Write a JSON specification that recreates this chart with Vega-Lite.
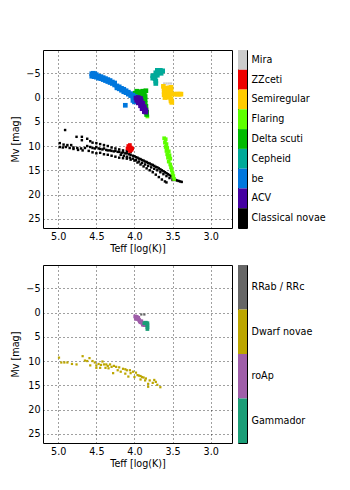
{
"$schema": "https://vega.github.io/schema/vega-lite/v6.json",
"padding": {"top": 49, "left": 10, "right": 0, "bottom": 0},
"config": {
  "font": "DejaVu Sans",
  "view": {"stroke": "#000", "strokeWidth": 1},
  "axis": {"labelFont": "DejaVu Sans", "labelFontSize": 9.6, "labelColor": "#000", "titleFont": "DejaVu Sans", "titleFontSize": 9.6, "titleFontWeight": "normal", "titleColor": "#000", "domain": false, "grid": true, "gridColor": "#000", "gridDash": [1, 3], "gridOpacity": 0.75, "tickColor": "#000"}
},
"datasets": {
"top": [
{"t":4.91,"m":6.7,"c":"Classical novae"},
{"t":4.98,"m":9.4,"c":"Classical novae"},{"t":4.93,"m":9.7,"c":"Classical novae"},{"t":4.88,"m":9.8,"c":"Classical novae"},{"t":4.83,"m":9.8,"c":"Classical novae"},{"t":4.76,"m":8.1,"c":"Classical novae"},{"t":4.69,"m":8.1,"c":"Classical novae"},{"t":4.69,"m":8.8,"c":"Classical novae"},{"t":4.62,"m":8.5,"c":"Classical novae"},{"t":4.58,"m":9.0,"c":"Classical novae"},{"t":4.55,"m":9.3,"c":"Classical novae"},{"t":4.50,"m":9.4,"c":"Classical novae"},{"t":4.45,"m":9.6,"c":"Classical novae"},{"t":4.40,"m":9.8,"c":"Classical novae"},{"t":4.35,"m":10.0,"c":"Classical novae"},{"t":4.30,"m":10.3,"c":"Classical novae"},{"t":4.25,"m":10.5,"c":"Classical novae"},{"t":4.20,"m":10.7,"c":"Classical novae"},{"t":4.15,"m":10.9,"c":"Classical novae"},{"t":4.10,"m":11.0,"c":"Classical novae"},{"t":4.05,"m":11.2,"c":"Classical novae"},
{"t":4.98,"m":10.2,"c":"Classical novae"},{"t":4.94,"m":10.3,"c":"Classical novae"},{"t":4.90,"m":10.2,"c":"Classical novae"},{"t":4.85,"m":10.4,"c":"Classical novae"},{"t":4.80,"m":10.3,"c":"Classical novae"},{"t":4.75,"m":10.4,"c":"Classical novae"},{"t":4.70,"m":10.5,"c":"Classical novae"},{"t":4.65,"m":10.4,"c":"Classical novae"},{"t":4.62,"m":10.0,"c":"Classical novae"},{"t":4.58,"m":10.2,"c":"Classical novae"},{"t":4.55,"m":10.4,"c":"Classical novae"},{"t":4.52,"m":10.5,"c":"Classical novae"},{"t":4.50,"m":10.2,"c":"Classical novae"},{"t":4.47,"m":10.5,"c":"Classical novae"},{"t":4.45,"m":10.6,"c":"Classical novae"},{"t":4.42,"m":10.7,"c":"Classical novae"},{"t":4.40,"m":10.5,"c":"Classical novae"},{"t":4.37,"m":10.8,"c":"Classical novae"},{"t":4.35,"m":10.9,"c":"Classical novae"},{"t":4.32,"m":10.9,"c":"Classical novae"},{"t":4.30,"m":11.0,"c":"Classical novae"},{"t":4.27,"m":11.1,"c":"Classical novae"},{"t":4.25,"m":11.0,"c":"Classical novae"},{"t":4.22,"m":11.2,"c":"Classical novae"},{"t":4.20,"m":11.2,"c":"Classical novae"},{"t":4.17,"m":11.4,"c":"Classical novae"},{"t":4.15,"m":11.3,"c":"Classical novae"},{"t":4.12,"m":11.5,"c":"Classical novae"},{"t":4.10,"m":11.5,"c":"Classical novae"},{"t":4.07,"m":11.7,"c":"Classical novae"},{"t":4.05,"m":11.8,"c":"Classical novae"},{"t":4.02,"m":12.0,"c":"Classical novae"},{"t":4.00,"m":12.1,"c":"Classical novae"},{"t":3.98,"m":12.3,"c":"Classical novae"},{"t":3.96,"m":12.4,"c":"Classical novae"},{"t":3.94,"m":12.6,"c":"Classical novae"},{"t":3.92,"m":12.7,"c":"Classical novae"},{"t":3.90,"m":12.9,"c":"Classical novae"},{"t":3.88,"m":13.0,"c":"Classical novae"},{"t":3.86,"m":13.2,"c":"Classical novae"},{"t":3.84,"m":13.3,"c":"Classical novae"},{"t":3.82,"m":13.5,"c":"Classical novae"},{"t":3.80,"m":13.6,"c":"Classical novae"},{"t":3.78,"m":13.8,"c":"Classical novae"},{"t":3.76,"m":13.9,"c":"Classical novae"},{"t":3.74,"m":14.1,"c":"Classical novae"},{"t":3.72,"m":14.3,"c":"Classical novae"},{"t":3.70,"m":14.4,"c":"Classical novae"},{"t":3.68,"m":14.6,"c":"Classical novae"},{"t":3.66,"m":14.8,"c":"Classical novae"},{"t":3.64,"m":15.0,"c":"Classical novae"},{"t":3.62,"m":15.2,"c":"Classical novae"},{"t":3.60,"m":15.4,"c":"Classical novae"},{"t":3.58,"m":15.6,"c":"Classical novae"},{"t":3.56,"m":15.8,"c":"Classical novae"},{"t":3.54,"m":16.0,"c":"Classical novae"},{"t":3.52,"m":16.2,"c":"Classical novae"},{"t":3.50,"m":16.5,"c":"Classical novae"},{"t":3.48,"m":16.8,"c":"Classical novae"},{"t":3.46,"m":17.0,"c":"Classical novae"},{"t":3.44,"m":17.1,"c":"Classical novae"},{"t":3.42,"m":17.2,"c":"Classical novae"},{"t":3.40,"m":17.3,"c":"Classical novae"},{"t":3.38,"m":17.4,"c":"Classical novae"},
{"t":4.18,"m":11.8,"c":"Classical novae"},{"t":4.14,"m":12.0,"c":"Classical novae"},{"t":4.10,"m":12.2,"c":"Classical novae"},{"t":4.06,"m":12.4,"c":"Classical novae"},{"t":4.02,"m":12.6,"c":"Classical novae"},{"t":3.98,"m":12.9,"c":"Classical novae"},{"t":3.94,"m":13.2,"c":"Classical novae"},{"t":3.90,"m":13.5,"c":"Classical novae"},{"t":3.86,"m":13.8,"c":"Classical novae"},{"t":3.82,"m":14.1,"c":"Classical novae"},{"t":3.78,"m":14.4,"c":"Classical novae"},{"t":3.74,"m":14.7,"c":"Classical novae"},{"t":3.70,"m":15.0,"c":"Classical novae"},{"t":3.66,"m":15.4,"c":"Classical novae"},{"t":3.62,"m":15.8,"c":"Classical novae"},{"t":3.58,"m":16.2,"c":"Classical novae"},{"t":3.54,"m":16.6,"c":"Classical novae"},{"t":3.50,"m":17.0,"c":"Classical novae"},
{"t":4.80,"m":10.6,"c":"Classical novae"},{"t":4.74,"m":10.8,"c":"Classical novae"},{"t":4.68,"m":10.9,"c":"Classical novae"},{"t":4.60,"m":11.0,"c":"Classical novae"},{"t":4.55,"m":11.3,"c":"Classical novae"},{"t":4.50,"m":11.5,"c":"Classical novae"},{"t":4.45,"m":11.4,"c":"Classical novae"},{"t":4.40,"m":11.7,"c":"Classical novae"},{"t":4.35,"m":11.8,"c":"Classical novae"},{"t":4.30,"m":12.0,"c":"Classical novae"},{"t":4.25,"m":12.2,"c":"Classical novae"},{"t":4.20,"m":12.4,"c":"Classical novae"},{"t":4.15,"m":12.5,"c":"Classical novae"},{"t":4.10,"m":12.6,"c":"Classical novae"},{"t":4.05,"m":12.8,"c":"Classical novae"},{"t":4.00,"m":13.0,"c":"Classical novae"},{"t":3.96,"m":13.4,"c":"Classical novae"},{"t":3.92,"m":13.8,"c":"Classical novae"},{"t":3.88,"m":14.2,"c":"Classical novae"},{"t":3.84,"m":14.6,"c":"Classical novae"},{"t":3.80,"m":15.0,"c":"Classical novae"},{"t":3.76,"m":15.4,"c":"Classical novae"},{"t":3.72,"m":15.9,"c":"Classical novae"},{"t":3.68,"m":16.4,"c":"Classical novae"},{"t":3.64,"m":16.9,"c":"Classical novae"},{"t":3.60,"m":17.3,"c":"Classical novae"},{"t":3.58,"m":17.5,"c":"Classical novae"},
{"t":3.61,"m":-2.9,"c":"Mira"},{"t":3.58,"m":-2.9,"c":"Mira"},{"t":3.55,"m":-2.9,"c":"Mira"},{"t":3.52,"m":-2.9,"c":"Mira"},
{"t":3.61,"m":-1.8,"c":"Semiregular"},{"t":3.58,"m":-1.9,"c":"Semiregular"},{"t":3.55,"m":-2.0,"c":"Semiregular"},{"t":3.52,"m":-2.1,"c":"Semiregular"},{"t":3.61,"m":-1.2,"c":"Semiregular"},{"t":3.58,"m":-1.3,"c":"Semiregular"},{"t":3.55,"m":-1.4,"c":"Semiregular"},{"t":3.52,"m":-1.4,"c":"Semiregular"},{"t":3.61,"m":-0.6,"c":"Semiregular"},{"t":3.58,"m":-0.6,"c":"Semiregular"},{"t":3.55,"m":-0.7,"c":"Semiregular"},{"t":3.52,"m":-0.7,"c":"Semiregular"},{"t":3.60,"m":0.0,"c":"Semiregular"},{"t":3.57,"m":-0.1,"c":"Semiregular"},{"t":3.54,"m":-0.1,"c":"Semiregular"},{"t":3.52,"m":0.3,"c":"Semiregular"},{"t":3.52,"m":0.7,"c":"Semiregular"},{"t":3.51,"m":1.0,"c":"Semiregular"},{"t":3.62,"m":-2.3,"c":"Semiregular"},{"t":3.47,"m":-0.7,"c":"Semiregular"},{"t":3.44,"m":-0.7,"c":"Semiregular"},{"t":3.41,"m":-0.7,"c":"Semiregular"},{"t":3.39,"m":-0.7,"c":"Semiregular"},
{"t":3.70,"m":-5.6,"c":"Cepheid"},{"t":3.66,"m":-5.6,"c":"Cepheid"},{"t":3.63,"m":-5.5,"c":"Cepheid"},{"t":3.72,"m":-5.1,"c":"Cepheid"},{"t":3.68,"m":-5.1,"c":"Cepheid"},{"t":3.65,"m":-5.0,"c":"Cepheid"},{"t":3.76,"m":-4.5,"c":"Cepheid"},{"t":3.73,"m":-4.5,"c":"Cepheid"},{"t":3.70,"m":-4.6,"c":"Cepheid"},{"t":3.76,"m":-4.0,"c":"Cepheid"},{"t":3.73,"m":-3.9,"c":"Cepheid"},{"t":3.72,"m":-3.4,"c":"Cepheid"},{"t":3.72,"m":-2.9,"c":"Cepheid"},
{"t":3.61,"m":8.4,"c":"Flaring"},{"t":3.59,"m":8.6,"c":"Flaring"},{"t":3.60,"m":9.3,"c":"Flaring"},{"t":3.58,"m":9.6,"c":"Flaring"},{"t":3.59,"m":10.2,"c":"Flaring"},{"t":3.57,"m":10.4,"c":"Flaring"},{"t":3.58,"m":11.0,"c":"Flaring"},{"t":3.55,"m":11.1,"c":"Flaring"},{"t":3.57,"m":11.7,"c":"Flaring"},{"t":3.54,"m":11.9,"c":"Flaring"},{"t":3.56,"m":12.4,"c":"Flaring"},{"t":3.53,"m":12.6,"c":"Flaring"},{"t":3.55,"m":13.2,"c":"Flaring"},{"t":3.53,"m":13.8,"c":"Flaring"},{"t":3.52,"m":14.4,"c":"Flaring"},{"t":3.51,"m":15.0,"c":"Flaring"},{"t":3.50,"m":15.6,"c":"Flaring"},{"t":3.49,"m":16.2,"c":"Flaring"},{"t":3.48,"m":16.8,"c":"Flaring"},{"t":3.83,"m":3.9,"c":"Flaring"},
{"t":4.08,"m":10.0,"c":"ZZceti"},{"t":4.06,"m":9.8,"c":"ZZceti"},{"t":4.05,"m":10.3,"c":"ZZceti"},{"t":4.07,"m":10.6,"c":"ZZceti"},{"t":4.04,"m":10.8,"c":"ZZceti"},{"t":4.09,"m":10.5,"c":"ZZceti"},{"t":4.03,"m":10.5,"c":"ZZceti"},{"t":4.06,"m":11.0,"c":"ZZceti"},
{"t":3.99,"m":-0.9,"c":"Delta scuti"},{"t":3.97,"m":-1.3,"c":"Delta scuti"},{"t":3.95,"m":-0.8,"c":"Delta scuti"},{"t":3.93,"m":-1.2,"c":"Delta scuti"},{"t":3.91,"m":-0.9,"c":"Delta scuti"},{"t":3.89,"m":-1.3,"c":"Delta scuti"},{"t":3.87,"m":-0.8,"c":"Delta scuti"},{"t":3.85,"m":-1.4,"c":"Delta scuti"},{"t":3.97,"m":-0.3,"c":"Delta scuti"},{"t":3.94,"m":-0.2,"c":"Delta scuti"},{"t":3.91,"m":-0.3,"c":"Delta scuti"},{"t":3.88,"m":-0.3,"c":"Delta scuti"},{"t":3.86,"m":-0.2,"c":"Delta scuti"},{"t":3.94,"m":0.4,"c":"Delta scuti"},{"t":3.91,"m":0.5,"c":"Delta scuti"},{"t":3.88,"m":0.4,"c":"Delta scuti"},{"t":3.86,"m":0.5,"c":"Delta scuti"},{"t":3.88,"m":1.1,"c":"Delta scuti"},{"t":3.86,"m":1.2,"c":"Delta scuti"},{"t":3.85,"m":1.8,"c":"Delta scuti"},{"t":3.87,"m":1.9,"c":"Delta scuti"},{"t":3.85,"m":2.5,"c":"Delta scuti"},{"t":3.84,"m":3.0,"c":"Delta scuti"},{"t":3.84,"m":3.5,"c":"Delta scuti"},
{"t":4.56,"m":-4.9,"c":"be"},{"t":4.54,"m":-5.0,"c":"be"},{"t":4.52,"m":-4.9,"c":"be"},{"t":4.50,"m":-4.7,"c":"be"},{"t":4.56,"m":-4.4,"c":"be"},{"t":4.53,"m":-4.3,"c":"be"},{"t":4.50,"m":-4.2,"c":"be"},{"t":4.47,"m":-4.4,"c":"be"},{"t":4.47,"m":-4.0,"c":"be"},{"t":4.44,"m":-3.9,"c":"be"},{"t":4.44,"m":-4.3,"c":"be"},{"t":4.41,"m":-3.7,"c":"be"},{"t":4.41,"m":-4.1,"c":"be"},{"t":4.38,"m":-3.5,"c":"be"},{"t":4.38,"m":-3.9,"c":"be"},{"t":4.35,"m":-3.3,"c":"be"},{"t":4.35,"m":-3.7,"c":"be"},{"t":4.32,"m":-3.1,"c":"be"},{"t":4.32,"m":-3.5,"c":"be"},{"t":4.29,"m":-2.9,"c":"be"},{"t":4.29,"m":-3.2,"c":"be"},{"t":4.26,"m":-2.6,"c":"be"},{"t":4.26,"m":-3.0,"c":"be"},{"t":4.23,"m":-2.4,"c":"be"},{"t":4.23,"m":-2.0,"c":"be"},{"t":4.20,"m":-2.2,"c":"be"},{"t":4.20,"m":-1.8,"c":"be"},{"t":4.17,"m":-1.9,"c":"be"},{"t":4.17,"m":-1.5,"c":"be"},{"t":4.14,"m":-1.7,"c":"be"},{"t":4.14,"m":-1.2,"c":"be"},{"t":4.11,"m":-1.4,"c":"be"},{"t":4.11,"m":-1.0,"c":"be"},{"t":4.08,"m":-1.1,"c":"be"},{"t":4.08,"m":-0.7,"c":"be"},{"t":4.05,"m":-0.8,"c":"be"},{"t":4.05,"m":-0.4,"c":"be"},{"t":4.02,"m":-0.5,"c":"be"},{"t":4.02,"m":-0.1,"c":"be"},{"t":3.99,"m":-0.2,"c":"be"},{"t":3.99,"m":0.2,"c":"be"},{"t":3.96,"m":0.1,"c":"be"},{"t":3.96,"m":0.5,"c":"be"},{"t":3.93,"m":0.4,"c":"be"},{"t":4.12,"m":1.6,"c":"be"},{"t":4.02,"m":0.6,"c":"be"},{"t":4.00,"m":0.9,"c":"be"},
{"t":3.98,"m":0.1,"c":"ACV"},{"t":3.95,"m":0.0,"c":"ACV"},{"t":3.92,"m":0.2,"c":"ACV"},{"t":3.97,"m":0.6,"c":"ACV"},{"t":3.94,"m":0.6,"c":"ACV"},{"t":3.91,"m":0.7,"c":"ACV"},{"t":3.95,"m":1.1,"c":"ACV"},{"t":3.92,"m":1.2,"c":"ACV"},{"t":3.89,"m":1.2,"c":"ACV"},{"t":3.92,"m":1.7,"c":"ACV"},{"t":3.89,"m":1.8,"c":"ACV"},{"t":3.87,"m":1.9,"c":"ACV"},{"t":3.90,"m":2.3,"c":"ACV"},{"t":3.87,"m":2.4,"c":"ACV"},{"t":3.85,"m":2.6,"c":"ACV"},{"t":3.87,"m":2.9,"c":"ACV"},{"t":3.85,"m":3.0,"c":"ACV"}
],
"bot": [
{"t":4.99,"m":9.3,"c":"Dwarf novae"},{"t":4.96,"m":10.3,"c":"Dwarf novae"},{"t":4.92,"m":10.3,"c":"Dwarf novae"},{"t":4.88,"m":10.3,"c":"Dwarf novae"},{"t":4.82,"m":10.6,"c":"Dwarf novae"},{"t":4.76,"m":10.7,"c":"Dwarf novae"},{"t":4.68,"m":9.0,"c":"Dwarf novae"},{"t":4.65,"m":9.9,"c":"Dwarf novae"},{"t":4.62,"m":10.0,"c":"Dwarf novae"},{"t":4.59,"m":9.4,"c":"Dwarf novae"},{"t":4.58,"m":10.9,"c":"Dwarf novae"},{"t":4.55,"m":10.0,"c":"Dwarf novae"},{"t":4.52,"m":10.3,"c":"Dwarf novae"},{"t":4.50,"m":10.9,"c":"Dwarf novae"},{"t":4.50,"m":11.4,"c":"Dwarf novae"},{"t":4.47,"m":10.6,"c":"Dwarf novae"},{"t":4.45,"m":11.4,"c":"Dwarf novae"},{"t":4.44,"m":10.8,"c":"Dwarf novae"},{"t":4.42,"m":10.1,"c":"Dwarf novae"},{"t":4.40,"m":10.7,"c":"Dwarf novae"},{"t":4.38,"m":11.4,"c":"Dwarf novae"},{"t":4.37,"m":10.7,"c":"Dwarf novae"},{"t":4.35,"m":11.0,"c":"Dwarf novae"},{"t":4.34,"m":11.5,"c":"Dwarf novae"},{"t":4.32,"m":10.7,"c":"Dwarf novae"},{"t":4.30,"m":11.2,"c":"Dwarf novae"},{"t":4.28,"m":12.5,"c":"Dwarf novae"},{"t":4.27,"m":11.0,"c":"Dwarf novae"},{"t":4.24,"m":11.2,"c":"Dwarf novae"},{"t":4.22,"m":11.9,"c":"Dwarf novae"},{"t":4.20,"m":11.3,"c":"Dwarf novae"},{"t":4.18,"m":12.2,"c":"Dwarf novae"},{"t":4.15,"m":11.6,"c":"Dwarf novae"},{"t":4.12,"m":11.7,"c":"Dwarf novae"},{"t":4.12,"m":12.6,"c":"Dwarf novae"},{"t":4.10,"m":11.9,"c":"Dwarf novae"},{"t":4.08,"m":13.2,"c":"Dwarf novae"},{"t":4.06,"m":11.9,"c":"Dwarf novae"},{"t":4.05,"m":12.5,"c":"Dwarf novae"},{"t":4.02,"m":12.2,"c":"Dwarf novae"},{"t":4.00,"m":13.3,"c":"Dwarf novae"},{"t":3.98,"m":12.4,"c":"Dwarf novae"},{"t":3.96,"m":12.9,"c":"Dwarf novae"},{"t":3.94,"m":13.0,"c":"Dwarf novae"},{"t":3.92,"m":13.1,"c":"Dwarf novae"},{"t":3.92,"m":13.8,"c":"Dwarf novae"},{"t":3.90,"m":13.3,"c":"Dwarf novae"},{"t":3.88,"m":13.4,"c":"Dwarf novae"},{"t":3.86,"m":14.0,"c":"Dwarf novae"},{"t":3.85,"m":13.6,"c":"Dwarf novae"},{"t":3.82,"m":14.7,"c":"Dwarf novae"},{"t":3.82,"m":15.3,"c":"Dwarf novae"},{"t":3.80,"m":14.0,"c":"Dwarf novae"},{"t":3.76,"m":14.5,"c":"Dwarf novae"},{"t":3.74,"m":13.9,"c":"Dwarf novae"},{"t":3.72,"m":14.3,"c":"Dwarf novae"},{"t":3.70,"m":14.9,"c":"Dwarf novae"},{"t":3.66,"m":15.4,"c":"Dwarf novae"},
{"t":3.91,"m":0.4,"c":"RRab / RRc"},{"t":3.87,"m":0.4,"c":"RRab / RRc"},
{"t":3.99,"m":0.8,"c":"roAp"},{"t":3.97,"m":0.9,"c":"roAp"},{"t":3.98,"m":1.3,"c":"roAp"},{"t":3.96,"m":1.3,"c":"roAp"},{"t":3.94,"m":1.5,"c":"roAp"},{"t":3.95,"m":1.1,"c":"roAp"},{"t":3.93,"m":1.8,"c":"roAp"},{"t":3.91,"m":1.8,"c":"roAp"},{"t":3.92,"m":2.0,"c":"roAp"},{"t":3.90,"m":2.1,"c":"roAp"},{"t":3.88,"m":2.3,"c":"roAp"},{"t":3.89,"m":2.5,"c":"roAp"},{"t":3.87,"m":2.6,"c":"roAp"},{"t":3.86,"m":2.4,"c":"roAp"},
{"t":3.87,"m":2.2,"c":"Gammador"},{"t":3.85,"m":2.1,"c":"Gammador"},{"t":3.83,"m":2.2,"c":"Gammador"},{"t":3.83,"m":2.6,"c":"Gammador"},{"t":3.83,"m":3.0,"c":"Gammador"},{"t":3.83,"m":3.4,"c":"Gammador"}
],
"cbTop": [{"c":"Mira"},{"c":"ZZceti"},{"c":"Semiregular"},{"c":"Flaring"},{"c":"Delta scuti"},{"c":"Cepheid"},{"c":"be"},{"c":"ACV"},{"c":"Classical novae"}],
"cbBot": [{"c":"RRab / RRc"},{"c":"Dwarf novae"},{"c":"roAp"},{"c":"Gammador"}]
},
"resolve": {"scale": {"color": "independent"}},
"spacing": 10,
"vconcat": [
{"spacing": 4,
 "hconcat": [
  {"width": 189, "height": 178, "data": {"name": "top"},
   "encoding": {
    "x": {"field": "t", "type": "quantitative", "scale": {"domain": [2.72, 5.2], "reverse": true, "nice": false, "zero": false}, "axis": {"values": [5, 4.5, 4, 3.5, 3], "format": ".1f", "title": "Teff [log(K)]", "ticks": false, "labelPadding": 3, "titlePadding": 3}},
    "y": {"field": "m", "type": "quantitative", "scale": {"domain": [-9.8, 26.9], "reverse": true, "nice": false, "zero": false}, "axis": {"values": [-5, 0, 5, 10, 15, 20, 25], "title": "Mv [mag]", "ticks": false, "labelPadding": 3, "titlePadding": 5}},
    "color": {"field": "c", "type": "nominal", "legend": null, "scale": {"domain": ["Classical novae", "ACV", "be", "Cepheid", "Delta scuti", "Flaring", "Semiregular", "ZZceti", "Mira"], "range": ["#000000", "#4400a1", "#0077dd", "#00aa99", "#00bb00", "#5dff00", "#ffcc00", "#ee0000", "#cccccc"]}}
   },
   "layer": [
    {"transform": [{"filter": {"field": "c", "equal": "Classical novae"}}], "mark": {"type": "square", "filled": true, "opacity": 1, "size": 6}},
    {"transform": [{"filter": {"field": "c", "equal": "Mira"}}], "mark": {"type": "square", "filled": true, "opacity": 1, "size": 5}},
    {"transform": [{"filter": {"field": "c", "oneOf": ["Flaring", "ZZceti"]}}], "mark": {"type": "square", "filled": true, "opacity": 1, "size": 14}},
    {"transform": [{"filter": {"field": "c", "oneOf": ["Semiregular", "Cepheid", "Delta scuti", "be", "ACV"]}}], "mark": {"type": "square", "filled": true, "opacity": 1, "size": 22}}
   ]},
  {"width": 9, "height": 178, "data": {"name": "cbTop"},
   "mark": {"type": "rect"},
   "encoding": {
    "y": {"field": "c", "type": "nominal", "sort": null, "scale": {"paddingInner": 0, "paddingOuter": 0}, "axis": {"orient": "right", "title": null, "grid": false, "ticks": false, "labelPadding": 4}},
    "color": {"field": "c", "type": "nominal", "legend": null, "scale": {"domain": ["Classical novae", "ACV", "be", "Cepheid", "Delta scuti", "Flaring", "Semiregular", "ZZceti", "Mira"], "range": ["#000000", "#4400a1", "#0077dd", "#00aa99", "#00bb00", "#5dff00", "#ffcc00", "#ee0000", "#cccccc"]}}
   }}
 ]},
{"spacing": 4,
 "hconcat": [
  {"width": 189, "height": 178, "data": {"name": "bot"},
   "encoding": {
    "x": {"field": "t", "type": "quantitative", "scale": {"domain": [2.72, 5.2], "reverse": true, "nice": false, "zero": false}, "axis": {"values": [5, 4.5, 4, 3.5, 3], "format": ".1f", "title": "Teff [log(K)]", "ticks": false, "labelPadding": 3, "titlePadding": 3}},
    "y": {"field": "m", "type": "quantitative", "scale": {"domain": [-9.8, 26.9], "reverse": true, "nice": false, "zero": false}, "axis": {"values": [-5, 0, 5, 10, 15, 20, 25], "title": "Mv [mag]", "ticks": false, "labelPadding": 3, "titlePadding": 5}},
    "color": {"field": "c", "type": "nominal", "legend": null, "scale": {"domain": ["Gammador", "roAp", "Dwarf novae", "RRab / RRc"], "range": ["#1b9e77", "#9f5ea9", "#bca600", "#666666"]}}
   },
   "layer": [
    {"transform": [{"filter": {"field": "c", "oneOf": ["Dwarf novae", "RRab / RRc"]}}], "mark": {"type": "square", "filled": true, "opacity": 1, "size": 5}},
    {"transform": [{"filter": {"field": "c", "oneOf": ["roAp", "Gammador"]}}], "mark": {"type": "square", "filled": true, "opacity": 1, "size": 14}}
   ]},
  {"width": 9, "height": 178, "data": {"name": "cbBot"},
   "mark": {"type": "rect"},
   "encoding": {
    "y": {"field": "c", "type": "nominal", "sort": null, "scale": {"paddingInner": 0, "paddingOuter": 0}, "axis": {"orient": "right", "title": null, "grid": false, "ticks": false, "labelPadding": 4}},
    "color": {"field": "c", "type": "nominal", "legend": null, "scale": {"domain": ["Gammador", "roAp", "Dwarf novae", "RRab / RRc"], "range": ["#1b9e77", "#9f5ea9", "#bca600", "#666666"]}}
   }}
 ]}
]
}
